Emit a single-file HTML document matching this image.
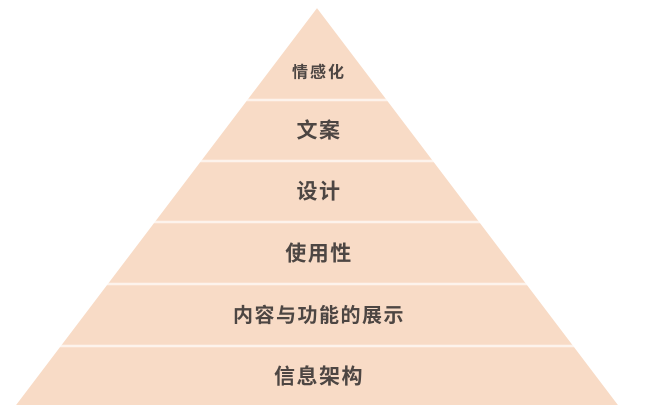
<!DOCTYPE html>
<html><head><meta charset="utf-8"><style>
html,body{margin:0;padding:0;background:#fff;width:645px;height:406px;overflow:hidden}
text{font-family:"Liberation Sans","Noto Sans CJK SC",sans-serif;fill:#4d4643;font-weight:bold;text-anchor:middle;dominant-baseline:central}
</style></head><body>
<svg width="645" height="406" viewBox="0 0 645 406">
<polygon points="317,8 618,405 16,405" fill="#f8dbc6"/>
<g stroke="#fdf3ec" stroke-width="2.5">
<line x1="0" y1="100" x2="645" y2="100"/>
<line x1="0" y1="161" x2="645" y2="161"/>
<line x1="0" y1="222" x2="645" y2="222"/>
<line x1="0" y1="284" x2="645" y2="284"/>
<line x1="0" y1="346" x2="645" y2="346"/>
</g>
<polygon points="317,8 0,8 0,406 16,405" fill="#fff"/>
<polygon points="317,8 645,8 645,406 618,405" fill="#fff"/>
<rect x="0" y="0" width="645" height="8" fill="#fff"/>
<text x="319" y="73" font-size="16" letter-spacing="2">情感化</text>
<text x="319" y="131" font-size="21" letter-spacing="1.5">文案</text>
<text x="319" y="192" font-size="21" letter-spacing="1.5">设计</text>
<text x="319" y="254" font-size="21" letter-spacing="1.5">使用性</text>
<text x="319" y="316" font-size="20" letter-spacing="1.5">内容与功能的展示</text>
<text x="319" y="377" font-size="21" letter-spacing="1.5">信息架构</text>
</svg>
</body></html>
